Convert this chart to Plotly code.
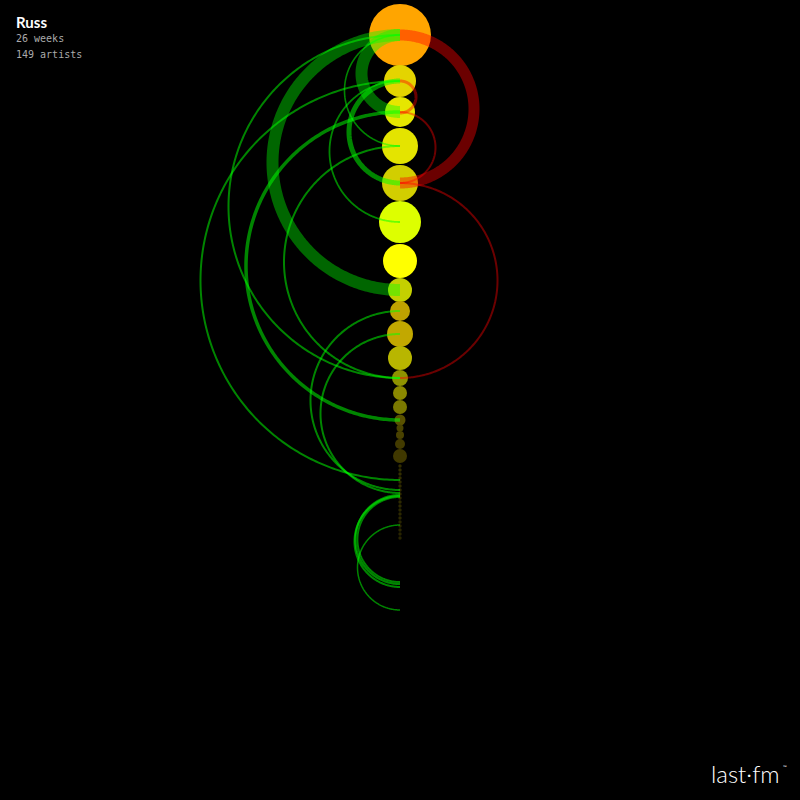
import numpy as np
import plotly.graph_objects as go

# ---- data ----
user_name = "Russ"
weeks_label = "26 weeks"
artists_label = "149 artists"

# nodes along the column (position, radius, colour)
node_y = [35, 81, 112, 146, 183, 222, 261, 290, 311, 334, 358, 378, 393, 407,
          420, 428, 435, 444, 456,
          466, 470, 474, 478, 482, 486, 490, 494, 498, 502, 506, 510, 514,
          518, 522, 526, 530, 534, 538]
node_r = [31, 16, 15, 18, 18, 21, 17, 12, 10, 13, 12, 8, 7, 7,
          5.5, 3.5, 4, 5, 7,
          1.7, 1.7, 1.7, 1.7, 1.7, 1.7, 1.7, 1.7, 1.7, 1.7, 1.7, 1.7, 1.7,
          1.7, 1.7, 1.7, 1.7, 1.7, 1.7]
node_color = ["#FFA500", "#E4D400", "#E6E600", "#E4E400", "#D2CE00", "#DDFF00",
              "#FFFF00", "#C4D000", "#BFA200", "#C2A800", "#B8B600", "#8E9200",
              "#8A8800", "#7A7800", "#5A5200", "#4A4400", "#4A4200", "#433B00",
              "#403800",
              "#332E00", "#332E00", "#332E00", "#332E00", "#302C00", "#302C00",
              "#302C00", "#302C00", "#2E2A00", "#2E2A00", "#2E2A00", "#2C2800",
              "#2C2800", "#2C2800", "#2A2600", "#2A2600", "#2A2600", "#282400",
              "#282400"]

# rank-change arcs: start / end position on the column, stroke width, direction
arc_start = [35, 35, 35, 35, 81, 81, 81, 112, 146, 311, 334, 495, 496, 497, 525,
             35, 81, 112, 183]
arc_end = [290, 112, 378, 146, 480, 222, 183, 420, 378, 490, 493, 584, 587, 582, 610,
           183, 113, 183, 378]
arc_width = [12, 12, 2, 1.6, 2, 1.8, 5, 3.5, 2, 2, 2, 2.2, 2, 1.8, 1.5,
             11, 3, 2, 2]
arc_dir = ["up"] * 15 + ["down"] * 4

axis_x = 400

fig = go.Figure()

# node circles (under the arcs)
for y, r, c in zip(node_y, node_r, node_color):
    fig.add_shape(type="circle", xref="x", yref="y",
                  x0=axis_x - r, x1=axis_x + r, y0=y - r, y1=y + r,
                  fillcolor=c, line=dict(width=0), layer="below")

# arcs as half circles
t = np.linspace(0, np.pi, 240)
for s, e, w, d in zip(arc_start, arc_end, arc_width, arc_dir):
    c = (s + e) / 2.0
    r = (e - s) / 2.0
    side = -1 if d == "up" else 1
    xs = axis_x + side * r * np.sin(t)
    ys = c - r * np.cos(t)
    if d == "up":
        col = "rgba(0,255,0,0.40)" if w >= 8 else "rgba(0,255,0,0.52)"
    else:
        col = "rgba(255,0,0,0.42)"
    fig.add_trace(go.Scatter(x=xs, y=ys, mode="lines",
                             line=dict(color=col, width=w, simplify=False),
                             hoverinfo="skip", showlegend=False))

fig.update_layout(
    width=800, height=800,
    margin=dict(l=0, r=0, t=0, b=0),
    paper_bgcolor="black", plot_bgcolor="black",
    xaxis=dict(range=[0, 800], visible=False, fixedrange=True),
    yaxis=dict(range=[800, 0], visible=False, fixedrange=True),
    showlegend=False,
)

fig.add_annotation(xref="paper", yref="paper", x=14 / 800, y=1 - 22 / 800,
                   xanchor="left", yanchor="middle", showarrow=False,
                   text=user_name,
                   font=dict(family="Lato", size=15, color="white", weight="bold"))
fig.add_annotation(xref="paper", yref="paper", x=14 / 800, y=1 - 39 / 800,
                   xanchor="left", yanchor="middle", showarrow=False,
                   text=weeks_label,
                   font=dict(family="DejaVu Sans Mono", size=10, color="#AAAAAA"))
fig.add_annotation(xref="paper", yref="paper", x=14 / 800, y=1 - 54 / 800,
                   xanchor="left", yanchor="middle", showarrow=False,
                   text=artists_label,
                   font=dict(family="DejaVu Sans Mono", size=10, color="#AAAAAA"))
fig.add_annotation(xref="paper", yref="paper", x=782 / 800, y=1 - 773 / 800,
                   xanchor="right", yanchor="middle", showarrow=False,
                   text="last·fm",
                   font=dict(family="Lato", size=24, color="white", weight=300))
fig.add_annotation(xref="paper", yref="paper", x=781 / 800, y=1 - 767 / 800,
                   xanchor="left", yanchor="middle", showarrow=False,
                   text="™",
                   font=dict(family="Lato", size=5, color="white"))

fig.write_html("out.html")
